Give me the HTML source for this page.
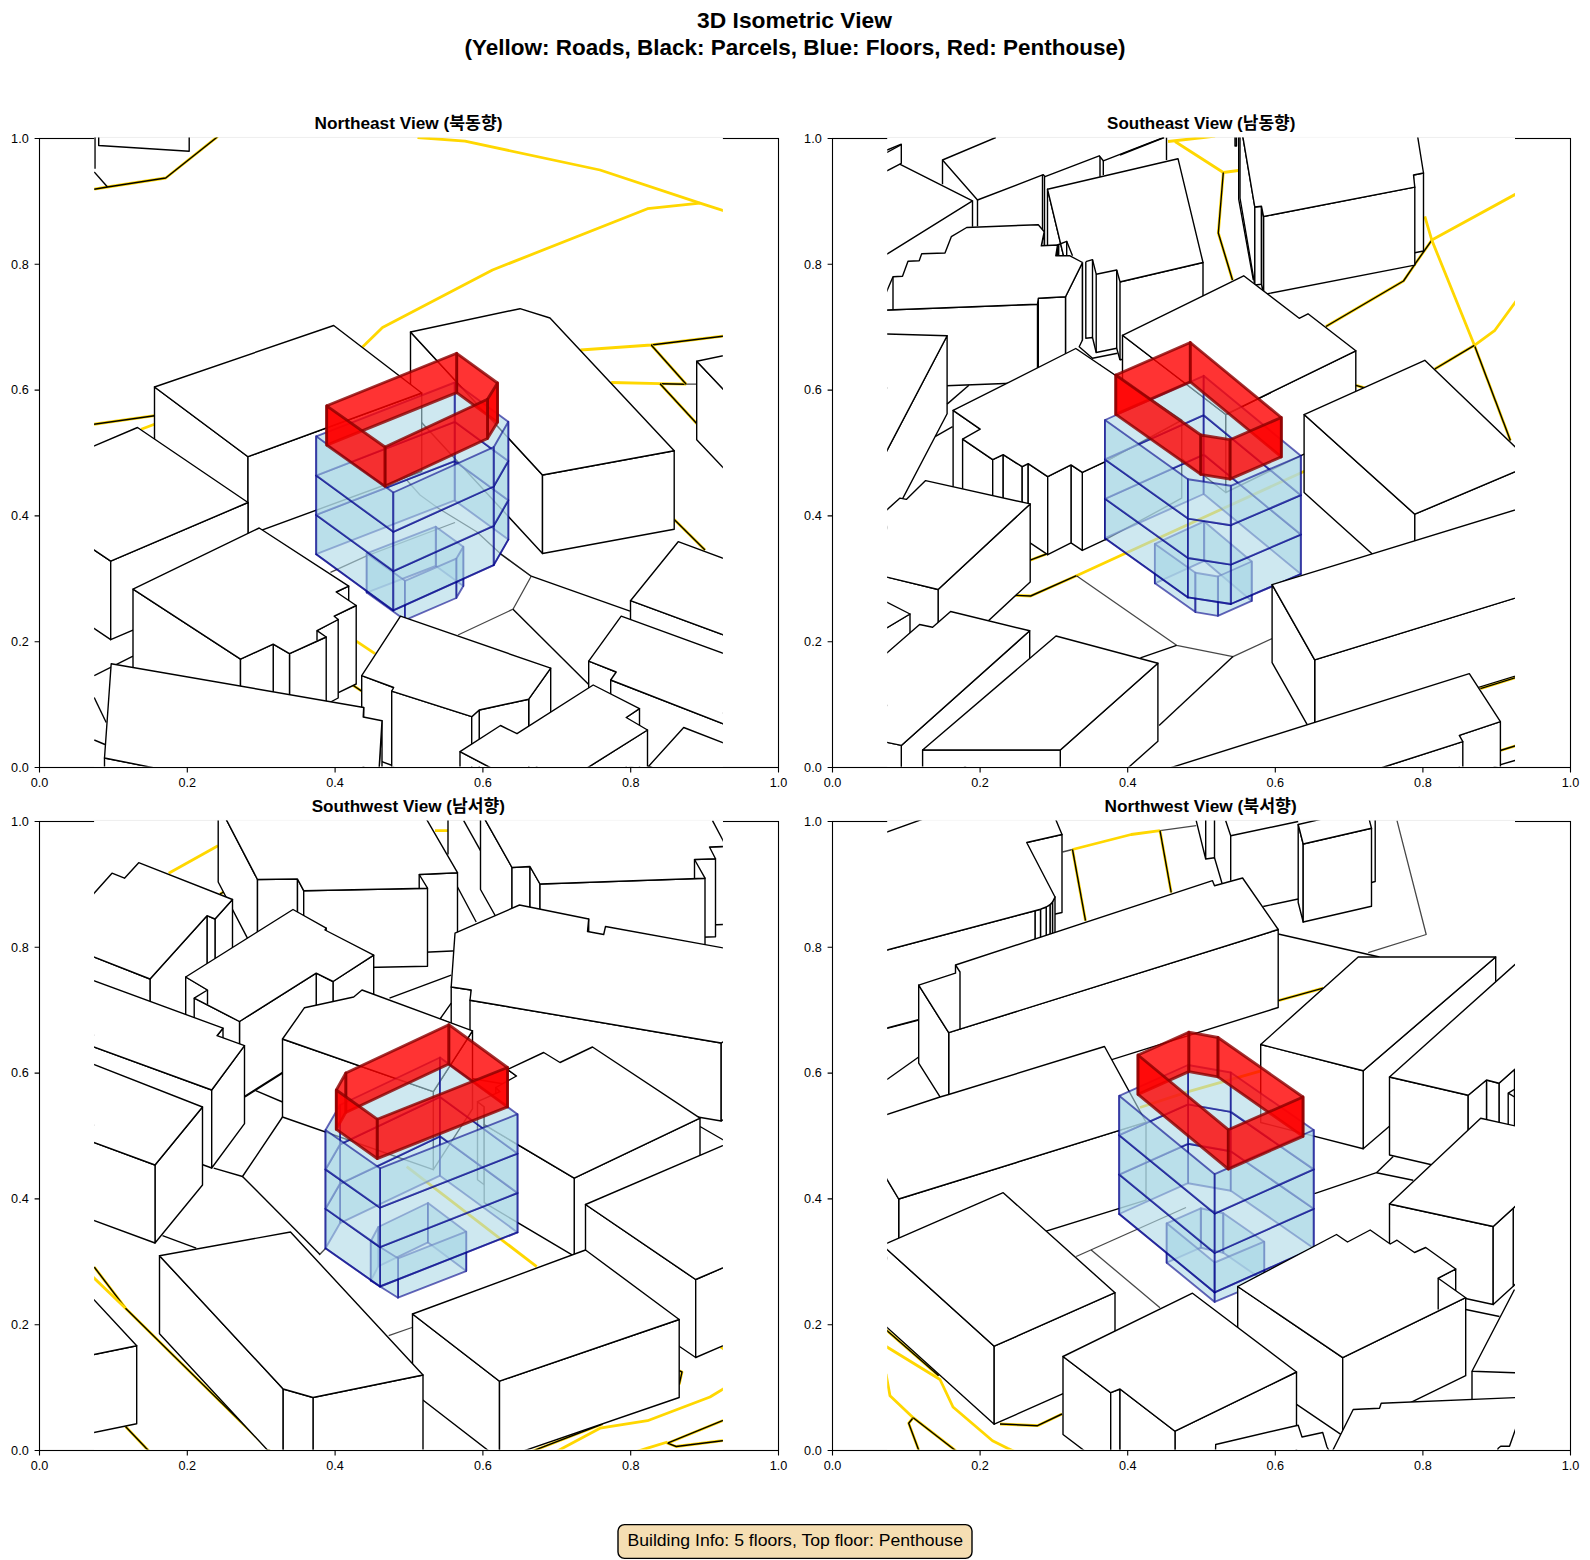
<!DOCTYPE html><html><head><meta charset="utf-8"><title>3D Isometric View</title><style>
html,body{margin:0;padding:0;background:#fff}svg{display:block}
text{font-family:'Liberation Sans','Noto Sans CJK KR',sans-serif;fill:#000}
.tk{font-size:13px}.st{font-size:17px;font-weight:bold}.tt{font-size:21.8px;font-weight:bold}.bx{font-size:16.4px}
.b{fill:#fff;stroke:#000;stroke-width:1.4;stroke-linejoin:round}
.ln{fill:none;stroke:#000;stroke-width:1.4;stroke-linejoin:round}
.th{fill:none;stroke:#000;stroke-opacity:.72;stroke-width:1.3;stroke-linejoin:round}
.rd{fill:none;stroke:#ffd700;stroke-width:2.8;stroke-linejoin:round}
.fl{fill:#add8e6;fill-opacity:.6;stroke:#00008b;stroke-opacity:.6;stroke-width:1.9;stroke-linejoin:round}
.fe{fill:none;stroke:#00008b;stroke-opacity:.6;stroke-width:1.9;stroke-linecap:round}
.ph{fill:#f00;fill-opacity:.8;stroke:#8b0000;stroke-opacity:.8;stroke-width:2.8;stroke-linejoin:round}
</style></head><body>
<svg width="1590" height="1560" viewBox="0 0 1590 1560">
<rect width="1590" height="1560" fill="#fff"/>
<text class="tt" x="794.5" y="27.8" text-anchor="middle" textLength="194.8" lengthAdjust="spacingAndGlyphs">3D Isometric View</text>
<text class="tt" x="795" y="55.3" text-anchor="middle" textLength="661" lengthAdjust="spacingAndGlyphs">(Yellow: Roads, Black: Parcels, Blue: Floors, Red: Penthouse)</text>
<rect x="39.5" y="138.5" width="739" height="629" fill="#fff" stroke="#000" stroke-width="1.1"/>
<path d="M39.5 767.5v4.9M39.5 767.5h-4.9" stroke="#000" stroke-width="1.1" fill="none"/>
<text class="tk" x="39.5" y="786.9" text-anchor="middle" textLength="17.6" lengthAdjust="spacingAndGlyphs">0.0</text>
<text class="tk" x="28.7" y="771.7" text-anchor="end" textLength="17.6" lengthAdjust="spacingAndGlyphs">0.0</text>
<path d="M187.3 767.5v4.9M39.5 641.7h-4.9" stroke="#000" stroke-width="1.1" fill="none"/>
<text class="tk" x="187.3" y="786.9" text-anchor="middle" textLength="17.6" lengthAdjust="spacingAndGlyphs">0.2</text>
<text class="tk" x="28.7" y="645.9" text-anchor="end" textLength="17.6" lengthAdjust="spacingAndGlyphs">0.2</text>
<path d="M335.1 767.5v4.9M39.5 515.9h-4.9" stroke="#000" stroke-width="1.1" fill="none"/>
<text class="tk" x="335.1" y="786.9" text-anchor="middle" textLength="17.6" lengthAdjust="spacingAndGlyphs">0.4</text>
<text class="tk" x="28.7" y="520.1" text-anchor="end" textLength="17.6" lengthAdjust="spacingAndGlyphs">0.4</text>
<path d="M482.9 767.5v4.9M39.5 390.1h-4.9" stroke="#000" stroke-width="1.1" fill="none"/>
<text class="tk" x="482.9" y="786.9" text-anchor="middle" textLength="17.6" lengthAdjust="spacingAndGlyphs">0.6</text>
<text class="tk" x="28.7" y="394.3" text-anchor="end" textLength="17.6" lengthAdjust="spacingAndGlyphs">0.6</text>
<path d="M630.7 767.5v4.9M39.5 264.3h-4.9" stroke="#000" stroke-width="1.1" fill="none"/>
<text class="tk" x="630.7" y="786.9" text-anchor="middle" textLength="17.6" lengthAdjust="spacingAndGlyphs">0.8</text>
<text class="tk" x="28.7" y="268.5" text-anchor="end" textLength="17.6" lengthAdjust="spacingAndGlyphs">0.8</text>
<path d="M778.5 767.5v4.9M39.5 138.5h-4.9" stroke="#000" stroke-width="1.1" fill="none"/>
<text class="tk" x="778.5" y="786.9" text-anchor="middle" textLength="17.6" lengthAdjust="spacingAndGlyphs">1.0</text>
<text class="tk" x="28.7" y="142.7" text-anchor="end" textLength="17.6" lengthAdjust="spacingAndGlyphs">1.0</text>
<text class="st" x="408.5" y="129.1" text-anchor="middle" textLength="188" lengthAdjust="spacingAndGlyphs">Northeast View (북동향)</text>
<clipPath id="c1"><rect x="94.1" y="137.6" width="628.8" height="629"/></clipPath>
<rect x="94.1" y="137" width="628.8" height="629.6" fill="#fff"/>
<path d="M94.1 137.4H722.9" stroke="#eee" stroke-width="1"/>
<g clip-path="url(#c1)">
<path class="rd" d="M94.2 189.2 L107.5 187 L165.7 178 L215.7 138.2 L230 126"/>
<path class="ln" d="M94.2 189.2 L107.5 187 L165.7 178 L215.7 138.2 L230 126"/>
<path class="rd" d="M417.5 137.5 L465 141.2 L600 170 L700 203.2 L722.8 210.5 L740 216"/>
<path class="rd" d="M362.5 347 L382.5 327.5 L492.5 270 L647.5 208.7 L700 203.2"/>
<path class="rd" d="M580.5 350 L651.2 345 L722.8 336.2 L740 334"/>
<path class="ln" d="M651.2 345 L722.8 336.2 L740 334"/>
<path class="rd" d="M611.2 382.5 L660 383.7 L686.2 384.2"/>
<path class="ln" d="M660 383.7 L686.2 384.2"/>
<path class="th" d="M686.2 384.2 L696.5 384.2"/>
<path class="rd" d="M651.2 345 L686.2 384.2"/>
<path class="ln" d="M651.2 345 L686.2 384.2"/>
<path class="rd" d="M660 383.7 L696.2 423 L705 432"/>
<path class="ln" d="M660 383.7 L696.2 423 L705 432"/>
<path class="rd" d="M80 426.2 L154.5 415.7"/>
<path class="ln" d="M80 426.2 L154.5 415.7"/>
<path class="rd" d="M141.2 429.2 L154.5 424.2 L170 418"/>
<path class="rd" d="M674.2 519.5 L705 550"/>
<path class="ln" d="M674.2 519.5 L705 550"/>
<path class="rd" d="M356.2 641.2 L375 653.7"/>
<path class="rd" d="M352.5 685 L361.7 691.2"/>
<path class="ln" d="M352.5 685 L361.7 691.2"/>
<path class="ln" d="M95 130 L95 168.7"/>
<path class="ln" d="M94.2 172 L107.5 187"/>
<path class="ln" d="M98.7 130 L98.7 145.5 L189.2 151.2 L189.2 130"/>
<path class="ln" d="M94.2 675.7 L133 656.2"/>
<path class="ln" d="M94.2 697.5 L106.2 722.5"/>
<path class="ln" d="M94.2 740 L105 744.5"/>
<path class="th" d="M500 553.7 L531.2 576.2"/>
<path class="ln" d="M531.2 576.2 L630 611.2"/>
<path class="th" d="M531.2 576.2 L513 609.2 L458 635"/>
<path class="ln" d="M513 609.2 L589.2 685"/>
<path class="th" d="M406.7 480 L420 495 L438.3 508.3 L476.7 531.7 L500 553.3 L531.2 576.2"/>
<path class="th" d="M330.5 572.3 L366.7 555.8 L455 522.5"/>
<path class="b" d="M796.7 467 L696.7 361.2 L696.7 439.7 L796.7 545.5Z"/><path class="b" d="M896.7 446 L796.7 467 L796.7 545.5 L896.7 524.5Z"/><path class="b" d="M696.7 361.2 L796.7 340.2 L896.7 446 L796.7 467Z"/>
<path class="b" d="M542.5 475 L410.5 332 L410.5 410.5 L542.5 553.5Z"/><path class="b" d="M674.2 450.7 L542.5 475 L542.5 553.5 L674.2 529.2Z"/><path class="b" d="M410.5 332 L520 308.7 L550 318 L674.2 450.7 L542.5 475Z"/>
<path class="b" d="M248 456.7 L154.5 387 L154.5 465.5 L248 535.2Z"/><path class="b" d="M421.7 393 L248 456.7 L248 535.2 L421.7 471.5Z"/><path class="b" d="M154.5 387 L333.7 325.5 L421.7 393 L248 456.7Z"/>
<path class="b" d="M110.7 561.2 L0.2 486.2 L0.2 564.7 L110.7 639.7Z"/><path class="b" d="M248 502.5 L110.7 561.2 L110.7 639.7 L248 581Z"/><path class="b" d="M137.5 427.5 L248 502.5 L110.7 561.2 L0.2 486.2Z"/>
<path class="b" d="M348.7 586.2 L336.2 592 L336.2 670.5 L348.7 664.7Z"/><path class="b" d="M356.2 605.5 L334.2 616.2 L334.2 694.7 L356.2 684Z"/><path class="b" d="M240.5 659.2 L133 589.2 L133 667.7 L240.5 737.7Z"/><path class="b" d="M338.2 619.5 L317 630.7 L317 709.2 L338.2 698Z"/><path class="b" d="M326.2 637 L289.5 653.7 L289.5 732.2 L326.2 715.5Z"/><path class="b" d="M289.5 653.7 L273.2 644.2 L273.2 722.7 L289.5 732.2Z"/><path class="b" d="M273.2 644.2 L240.5 659.2 L240.5 737.7 L273.2 722.7Z"/><path class="b" d="M133 589.2 L259.2 528 L348.7 586.2 L336.2 592 L356.2 605.5 L334.2 616.2 L338.2 619.5 L317 630.7 L326.2 637 L289.5 653.7 L273.2 644.2 L240.5 659.2Z"/>
<path class="ln" d="M317 630.7 L317 640.5"/>
<path class="b" d="M800 586.5 L752.3 645.5 L752.3 724 L800 665Z"/><path class="b" d="M752.3 645.5 L630.5 600.7 L630.5 679.2 L752.3 724Z"/><path class="b" d="M678.2 541.7 L800 586.5 L752.3 645.5 L630.5 600.7Z"/>
<path class="b" d="M616.2 672 L588.7 661.2 L588.7 739.7 L616.2 750.5Z"/><path class="b" d="M780 673.9 L770 742 L770 820.5 L780 752.4Z"/><path class="b" d="M770 742 L610.7 680 L610.7 758.5 L770 820.5Z"/><path class="b" d="M621.2 616.2 L780 673.9 L770 742 L610.7 680 L616.2 672 L588.7 661.2Z"/>
<path class="fl" d="M435.8 526.7 L463.3 546.7 L463.3 586 L435.8 566Z"/><path class="fl" d="M366.7 553.3 L435.8 526.7 L435.8 566 L366.7 592.6Z"/><path class="fl" d="M463.3 546.7 L456.3 558.7 L456.3 598 L463.3 586Z"/><path class="fl" d="M405 580.8 L366.7 553.3 L366.7 592.6 L405 620.1Z"/><path class="fl" d="M456.3 558.7 L405 580.8 L405 620.1 L456.3 598Z"/><path class="fl" d="M508.3 500.3 L454.7 461.1 L454.7 500.4 L508.3 539.6Z"/><path class="fl" d="M454.7 461.1 L316.2 514.9 L316.2 554.2 L454.7 500.4Z"/><path class="fl" d="M508.3 461 L454.7 421.8 L454.7 461.1 L508.3 500.3Z"/><path class="fl" d="M454.7 421.8 L316.2 475.6 L316.2 514.9 L454.7 461.1Z"/><path class="fl" d="M508.3 421.7 L454.7 382.5 L454.7 421.8 L508.3 461Z"/><path class="fl" d="M454.7 382.5 L316.2 436.3 L316.2 475.6 L454.7 421.8Z"/><path class="fl" d="M493.7 525.8 L508.3 500.3 L508.3 539.6 L493.7 565.1Z"/><path class="fl" d="M316.2 514.9 L393.3 571.1 L393.3 610.4 L316.2 554.2Z"/><path class="fl" d="M393.3 571.1 L493.7 525.8 L493.7 565.1 L393.3 610.4Z"/><path class="fl" d="M493.7 486.5 L508.3 461 L508.3 500.3 L493.7 525.8Z"/><path class="fl" d="M316.2 475.6 L393.3 531.8 L393.3 571.1 L316.2 514.9Z"/><path class="fl" d="M393.3 531.8 L493.7 486.5 L493.7 525.8 L393.3 571.1Z"/><path class="fl" d="M493.7 447.2 L508.3 421.7 L508.3 461 L493.7 486.5Z"/><path class="fl" d="M316.2 436.3 L393.3 492.5 L393.3 531.8 L316.2 475.6Z"/><path class="fl" d="M393.3 492.5 L493.7 447.2 L493.7 486.5 L393.3 531.8Z"/><path class="fe" d="M493.7 565.1 L508.3 539.6"/><path class="fe" d="M316.2 554.2 L393.3 610.4"/><path class="fe" d="M393.3 610.4 L493.7 565.1"/><path class="ph" d="M456.7 353.3 L497.5 383 L497.5 422.3 L456.7 392.6Z"/><path class="ph" d="M326.7 405.8 L456.7 353.3 L456.7 392.6 L326.7 445.1Z"/><path class="ph" d="M497.5 383 L487.5 399.2 L487.5 438.5 L497.5 422.3Z"/><path class="ph" d="M487.5 399.2 L385 447 L385 486.3 L487.5 438.5Z"/><path class="ph" d="M385 447 L326.7 405.8 L326.7 445.1 L385 486.3Z"/>
<path class="b" d="M393.7 687.5 L361.7 675.7 L361.7 754.2 L393.7 766Z"/><path class="b" d="M550.7 668.2 L528.7 699.2 L528.7 777.7 L550.7 746.7Z"/><path class="b" d="M471.7 716.7 L391.7 691.2 L391.7 769.7 L471.7 795.2Z"/><path class="b" d="M528.7 699.2 L479.2 710 L479.2 788.5 L528.7 777.7Z"/><path class="b" d="M479.2 710 L471.7 716.7 L471.7 795.2 L479.2 788.5Z"/><path class="b" d="M400.5 616.2 L550.7 668.2 L528.7 699.2 L479.2 710 L471.7 716.7 L391.7 691.2 L393.7 687.5 L361.7 675.7Z"/>
<path class="b" d="M363.7 707.5 L363.2 717 L363.2 795.5 L363.7 786Z"/><path class="b" d="M382 720.7 L376.5 812 L376.5 890.5 L382 799.2Z"/><path class="b" d="M376.5 812 L104.5 758 L104.5 836.5 L376.5 890.5Z"/><path class="b" d="M111.2 663.7 L363.7 707.5 L363.2 717 L382 720.7 L376.5 812 L104.5 758Z"/>
<path class="b" d="M780 764.7 L745 803 L745 881.5 L780 843.2Z"/><path class="b" d="M745 803 L648.7 766.2 L648.7 844.7 L745 881.5Z"/><path class="b" d="M683.7 727.5 L780 764.7 L745 803 L648.7 766.2Z"/>
<path class="b" d="M639.5 708.7 L626.2 717.5 L626.2 796 L639.5 787.2Z"/><path class="b" d="M647.5 730 L560 785 L560 863.5 L647.5 808.5Z"/><path class="b" d="M520 783 L460 751.7 L460 830.2 L520 861.5Z"/><path class="b" d="M560 785 L520 783 L520 861.5 L560 863.5Z"/><path class="b" d="M460 751.7 L500.5 725.5 L517 733.7 L593.2 685 L639.5 708.7 L626.2 717.5 L647.5 730 L560 785 L520 783Z"/>
</g>
<rect x="832.5" y="138.5" width="738" height="629" fill="#fff" stroke="#000" stroke-width="1.1"/>
<path d="M832.5 767.5v4.9M832.5 767.5h-4.9" stroke="#000" stroke-width="1.1" fill="none"/>
<text class="tk" x="832.5" y="786.9" text-anchor="middle" textLength="17.6" lengthAdjust="spacingAndGlyphs">0.0</text>
<text class="tk" x="821.7" y="771.7" text-anchor="end" textLength="17.6" lengthAdjust="spacingAndGlyphs">0.0</text>
<path d="M980.1 767.5v4.9M832.5 641.7h-4.9" stroke="#000" stroke-width="1.1" fill="none"/>
<text class="tk" x="980.1" y="786.9" text-anchor="middle" textLength="17.6" lengthAdjust="spacingAndGlyphs">0.2</text>
<text class="tk" x="821.7" y="645.9" text-anchor="end" textLength="17.6" lengthAdjust="spacingAndGlyphs">0.2</text>
<path d="M1127.7 767.5v4.9M832.5 515.9h-4.9" stroke="#000" stroke-width="1.1" fill="none"/>
<text class="tk" x="1127.7" y="786.9" text-anchor="middle" textLength="17.6" lengthAdjust="spacingAndGlyphs">0.4</text>
<text class="tk" x="821.7" y="520.1" text-anchor="end" textLength="17.6" lengthAdjust="spacingAndGlyphs">0.4</text>
<path d="M1275.3 767.5v4.9M832.5 390.1h-4.9" stroke="#000" stroke-width="1.1" fill="none"/>
<text class="tk" x="1275.3" y="786.9" text-anchor="middle" textLength="17.6" lengthAdjust="spacingAndGlyphs">0.6</text>
<text class="tk" x="821.7" y="394.3" text-anchor="end" textLength="17.6" lengthAdjust="spacingAndGlyphs">0.6</text>
<path d="M1422.9 767.5v4.9M832.5 264.3h-4.9" stroke="#000" stroke-width="1.1" fill="none"/>
<text class="tk" x="1422.9" y="786.9" text-anchor="middle" textLength="17.6" lengthAdjust="spacingAndGlyphs">0.8</text>
<text class="tk" x="821.7" y="268.5" text-anchor="end" textLength="17.6" lengthAdjust="spacingAndGlyphs">0.8</text>
<path d="M1570.5 767.5v4.9M832.5 138.5h-4.9" stroke="#000" stroke-width="1.1" fill="none"/>
<text class="tk" x="1570.5" y="786.9" text-anchor="middle" textLength="17.6" lengthAdjust="spacingAndGlyphs">1.0</text>
<text class="tk" x="821.7" y="142.7" text-anchor="end" textLength="17.6" lengthAdjust="spacingAndGlyphs">1.0</text>
<text class="st" x="1201.2" y="129.1" text-anchor="middle" textLength="188.3" lengthAdjust="spacingAndGlyphs">Southeast View (남동향)</text>
<clipPath id="c2"><rect x="887.2" y="137.6" width="627.8" height="629"/></clipPath>
<rect x="887.2" y="137" width="627.8" height="629.6" fill="#fff"/>
<path d="M887.2 137.4H1515" stroke="#eee" stroke-width="1"/>
<g clip-path="url(#c2)">
<path class="rd" d="M1168 141.5 L1203.3 137.5 L1215 136"/>
<path class="rd" d="M1175 141.5 L1223.3 172.5 L1238.3 170.5"/>
<path class="rd" d="M1223.3 172.5 L1218.3 233 L1232.5 280"/>
<path class="ln" d="M1223.3 172.5 L1218.3 233 L1232.5 280"/>
<path class="rd" d="M1325.9 326.5 L1403.5 281 L1416 262.7 L1431.8 240.1"/>
<path class="ln" d="M1325.9 326.5 L1403.5 281 L1416 262.7 L1431.8 240.1"/>
<path class="rd" d="M1431.8 240.1 L1514.9 194.6 L1530 186"/>
<path class="rd" d="M1424.8 216.4 L1431.8 240.1 L1474.4 345.3"/>
<path class="rd" d="M1474.4 345.3 L1510.4 440.4"/>
<path class="ln" d="M1474.4 345.3 L1510.4 440.4"/>
<path class="rd" d="M1434.8 369 L1474.4 345.3"/>
<path class="ln" d="M1434.8 369 L1474.4 345.3"/>
<path class="rd" d="M1474.4 345.3 L1494.9 330.3 L1514.9 302.7 L1525 289"/>
<path class="rd" d="M1356 385.3 L1364.7 387.8"/>
<path class="ln" d="M1356 385.3 L1364.7 387.8"/>
<path class="rd" d="M1015.2 595.3 L1030.7 596 L1076.5 575.7"/>
<path class="ln" d="M1015.2 595.3 L1030.7 596 L1076.5 575.7"/>
<path class="rd" d="M1076.5 575.7 L1126.6 552.7 L1305 471"/>
<path class="rd" d="M1030.2 560.2 L1046.5 554"/>
<path class="ln" d="M1030.2 560.2 L1046.5 554"/>
<path class="rd" d="M1480.4 688.6 L1514.9 677.9 L1530 673"/>
<path class="ln" d="M1480.4 688.6 L1514.9 677.9 L1530 673"/>
<path class="rd" d="M1500.4 750.5 L1514.9 746 L1530 741"/>
<path class="ln" d="M1500.4 750.5 L1514.9 746 L1530 741"/>
<path class="th" d="M1076.5 575.7 L1176.6 645.3 L1233 656.6 L1272.1 638.6"/>
<path class="ln" d="M1176.6 645.3 L1140.4 657.8"/>
<path class="ln" d="M1233 656.6 L1159.1 725.4"/>
<path class="ln" d="M1493.6 766.7 L1514.9 760.5 L1530 756"/>
<path class="ln" d="M887 150 L901.3 144.2 L901.3 163.3 L887 170.8"/>
<path class="ln" d="M887 152.5 L901.3 144.7"/>
<path class="ln" d="M899.7 164.2 L972.5 200.8 L887 254.2"/>
<path class="ln" d="M972.5 200.8 L972.5 226.7"/>
<path class="ln" d="M977.5 200 L977.5 226.3"/>
<path class="ln" d="M995.8 137.5 L942.5 160 L942.5 184.2"/>
<path class="ln" d="M942.5 160 L977.5 200 L1043.3 174.7 L1045 176.7 L1099.2 155.8 L1103.3 160.8 L1145 144.7 L1163.7 137.5"/>
<path class="ln" d="M1042.5 174.7 L1042.5 245"/>
<path class="ln" d="M1044.5 176.7 L1044.5 245"/>
<path class="ln" d="M1100 156.7 L1100 176.7"/>
<path class="ln" d="M1103.3 160.8 L1103.3 175"/>
<path class="ln" d="M1166.5 137.5 L1166.5 160"/>
<path class="ln" d="M1120 155 L1164.2 137.5"/>
<path class="b" d="M1072.5 293 L1047.5 189.2 L1047.5 267.2 L1072.5 371Z"/><path class="b" d="M1203 262.5 L1072.5 293 L1072.5 371 L1203 340.5Z"/><path class="b" d="M1047.5 189.2 L1178 158.7 L1203 262.5 L1072.5 293Z"/>
<path class="b" d="M1044.2 231.7 L1041.3 245.8 L1041.3 323.8 L1044.2 309.7Z"/><path class="b" d="M1057.5 245 L1055.8 255.8 L1055.8 333.8 L1057.5 323Z"/><path class="b" d="M1082.5 262.5 L1065.5 296.7 L1065.5 374.7 L1082.5 340.5Z"/><path class="b" d="M1065.5 296.7 L1038.3 298.3 L1038.3 376.3 L1065.5 374.7Z"/><path class="b" d="M1038.3 298.3 L1037.5 304.2 L1037.5 382.2 L1038.3 376.3Z"/><path class="b" d="M1037.5 304.2 L870 310.6 L870 388.6 L1037.5 382.2Z"/><path class="b" d="M880 307 L893 276.7 L902.5 276.2 L908 261.3 L919.2 260.8 L921.7 253.7 L945 253 L951.3 236.7 L966.7 227.5 L1038.3 224.7 L1044.2 231.7 L1041.3 245.8 L1057.5 245 L1055.8 255.8 L1070 255.8 L1082.5 262.5 L1065.5 296.7 L1038.3 298.3 L1037.5 304.2 L870 310.6Z"/>
<path class="ln" d="M893 276.7 L893 309.5"/>
<path class="ln" d="M1057.5 245 L1066.7 241.3 L1072.5 255.8"/>
<path class="ln" d="M1066.7 241.3 L1066.7 255"/>
<path class="ln" d="M1058.7 245 L1058.7 255"/>
<path fill="#fff" d="M1085.8 261.7 L1092.5 259.7 L1096.2 274.2 L1116.7 270 L1120 281.7 L1120 360 L1115.8 375 L1075.8 348 L1082.5 340 L1082.5 262.5Z"/>
<path class="ln" d="M1085.8 261.7 L1092.5 259.7 L1096.2 274.2 L1116.7 270 L1120 281.7"/>
<path class="ln" d="M1082.5 262.5 L1082.5 340 L1079.2 346.7 L1092.5 358.3 L1117.5 353.3"/>
<path class="ln" d="M1085.8 261.7 L1085.8 338.3 L1092.5 337.5 L1096.2 352.5 L1116.7 348.3 L1120 360"/>
<path class="ln" d="M1092.5 259.7 L1092.5 337.5"/>
<path class="ln" d="M1096.2 274.2 L1096.2 352.5"/>
<path class="ln" d="M1116.7 270 L1116.7 348.3"/>
<path class="ln" d="M1120 281.7 L1120 360"/>
<path class="ln" d="M1238.7 130 L1238.7 199.2 L1253.3 280"/>
<path class="ln" d="M1235 130 L1235 146 L1236.5 146 L1236.5 130"/>
<path class="b" d="M1240 120 L1254.8 207 L1254.8 285 L1240 198Z"/><path class="b" d="M1413.5 175 L1423.5 173 L1423.5 251 L1413.5 253Z"/><path class="b" d="M1263.5 216.5 L1414.8 187.1 L1414.8 265.1 L1263.5 294.5Z"/><path class="b" d="M1254.8 207 L1261.5 206.3 L1261.5 284.3 L1254.8 285Z"/><path class="b" d="M1261.5 206.3 L1263.5 216.5 L1263.5 294.5 L1261.5 284.3Z"/><path class="b" d="M1240 120 L1254.8 207 L1261.5 206.3 L1263.5 216.5 L1414.8 187.1 L1413.5 175 L1423.5 173 L1415 120Z"/>
<path class="b" d="M947.1 335.8 L860 502 L860 580 L947.1 413.8Z"/><path class="b" d="M860 502 L800 500 L800 578 L860 580Z"/><path class="b" d="M947.1 335.8 L860 502 L800 500 L800 332 L887 334Z"/>
<path class="ln" d="M947.1 404.1 L968.9 385.3"/>
<path class="ln" d="M935.1 436.6 L952.6 426.6"/>
<path class="b" d="M1225.8 414.5 L1122.5 335.3 L1122.5 413.3 L1225.8 492.5Z"/><path class="b" d="M1355.8 350.8 L1225.8 414.5 L1225.8 492.5 L1355.8 428.8Z"/><path class="b" d="M1122.5 335.3 L1243.7 275.8 L1299.2 318.3 L1308 313.8 L1355.8 350.8 L1225.8 414.5Z"/>
<path class="b" d="M980.2 429.1 L953.1 410.4 L953.1 488.4 L980.2 507.1Z"/><path class="b" d="M1181.7 420.2 L1105.3 461.7 L1105.3 539.7 L1181.7 498.2Z"/><path class="b" d="M992.7 459.7 L962.6 439.1 L962.6 517.1 L992.7 537.7Z"/><path class="b" d="M1003.2 454.7 L992.7 459.7 L992.7 537.7 L1003.2 532.7Z"/><path class="b" d="M1022.2 466.7 L1003.2 454.7 L1003.2 532.7 L1022.2 544.7Z"/><path class="b" d="M1028.2 463.7 L1022.2 466.7 L1022.2 544.7 L1028.2 541.7Z"/><path class="b" d="M1105.3 461.7 L1082.3 472.4 L1082.3 550.4 L1105.3 539.7Z"/><path class="b" d="M1082.3 472.4 L1071 464.9 L1071 542.9 L1082.3 550.4Z"/><path class="b" d="M1047.7 476.7 L1028.2 463.7 L1028.2 541.7 L1047.7 554.7Z"/><path class="b" d="M1071 464.9 L1047.7 476.7 L1047.7 554.7 L1071 542.9Z"/><path class="b" d="M953.1 410.4 L1075.8 348.5 L1181.7 420.2 L1105.3 461.7 L1082.3 472.4 L1071 464.9 L1047.7 476.7 L1028.2 463.7 L1022.2 466.7 L1003.2 454.7 L992.7 459.7 L962.6 439.1 L980.2 429.1Z"/>
<path class="fl" d="M1154.9 543.9 L1204.2 521.4 L1204.2 560.8 L1154.9 583.3Z"/><path class="fl" d="M1204.2 521.4 L1251.7 561.5 L1251.7 600.9 L1204.2 560.8Z"/><path class="fl" d="M1195.4 572.7 L1154.9 543.9 L1154.9 583.3 L1195.4 612.1Z"/><path class="fl" d="M1251.7 561.5 L1217.9 576.5 L1217.9 615.9 L1251.7 600.9Z"/><path class="fl" d="M1217.9 576.5 L1195.4 572.7 L1195.4 612.1 L1217.9 615.9Z"/><path class="fl" d="M1105 498.8 L1203.7 454.6 L1203.7 494 L1105 538.2Z"/><path class="fl" d="M1203.7 454.6 L1300.8 534.6 L1300.8 574 L1203.7 494Z"/><path class="fl" d="M1105 459.4 L1203.7 415.2 L1203.7 454.6 L1105 498.8Z"/><path class="fl" d="M1203.7 415.2 L1300.8 495.2 L1300.8 534.6 L1203.7 454.6Z"/><path class="fl" d="M1105 420 L1203.7 375.8 L1203.7 415.2 L1105 459.4Z"/><path class="fl" d="M1203.7 375.8 L1300.8 455.8 L1300.8 495.2 L1203.7 415.2Z"/><path class="fl" d="M1188 558 L1105 498.8 L1105 538.2 L1188 597.4Z"/><path class="fl" d="M1300.8 534.6 L1230.8 564.6 L1230.8 604 L1300.8 574Z"/><path class="fl" d="M1230.8 564.6 L1188 558 L1188 597.4 L1230.8 604Z"/><path class="fl" d="M1188 518.6 L1105 459.4 L1105 498.8 L1188 558Z"/><path class="fl" d="M1300.8 495.2 L1230.8 525.2 L1230.8 564.6 L1300.8 534.6Z"/><path class="fl" d="M1230.8 525.2 L1188 518.6 L1188 558 L1230.8 564.6Z"/><path class="fl" d="M1188 479.2 L1105 420 L1105 459.4 L1188 518.6Z"/><path class="fl" d="M1300.8 455.8 L1230.8 485.8 L1230.8 525.2 L1300.8 495.2Z"/><path class="fl" d="M1230.8 485.8 L1188 479.2 L1188 518.6 L1230.8 525.2Z"/><path class="fe" d="M1188 597.4 L1105 538.2"/><path class="fe" d="M1300.8 574 L1230.8 604"/><path class="fe" d="M1230.8 604 L1188 597.4"/><path class="ph" d="M1115.8 375 L1190.3 342.5 L1190.3 381.9 L1115.8 414.4Z"/><path class="ph" d="M1190.3 342.5 L1281.3 417.5 L1281.3 456.9 L1190.3 381.9Z"/><path class="ph" d="M1200.8 435 L1115.8 375 L1115.8 414.4 L1200.8 474.4Z"/><path class="ph" d="M1281.3 417.5 L1230 439.7 L1230 479.1 L1281.3 456.9Z"/><path class="ph" d="M1230 439.7 L1200.8 435 L1200.8 474.4 L1230 479.1Z"/>
<path class="b" d="M1414.8 514.2 L1304.1 414.6 L1304.1 492.6 L1414.8 592.2Z"/><path class="b" d="M1533 464 L1414.8 514.2 L1414.8 592.2 L1533 542Z"/><path class="b" d="M1304.1 414.6 L1424.8 360.3 L1533 464 L1414.8 514.2Z"/>
<path class="b" d="M1030.2 503.9 L938.1 589.5 L938.1 667.5 L1030.2 581.9Z"/><path class="b" d="M938.1 589.5 L870 573 L870 651 L938.1 667.5Z"/><path class="b" d="M870 525 L900 498.1 L906.3 499.4 L925.6 480.6 L1030.2 503.9 L938.1 589.5 L870 573Z"/>
<path class="b" d="M910 614 L870 638 L870 716 L910 692Z"/><path class="b" d="M870 593.6 L910 614 L870 638Z"/>
<path class="b" d="M1029.7 630.8 L901.3 745.4 L901.3 823.4 L1029.7 708.8Z"/><path class="b" d="M901.3 745.4 L870 738.8 L870 816.8 L901.3 823.4Z"/><path class="b" d="M870 667.6 L919.6 624.5 L932.6 627.3 L950.6 611.5 L1029.7 630.8 L901.3 745.4 L870 738.8Z"/>
<path class="b" d="M1157.9 663.3 L1060.3 750 L1060.3 828 L1157.9 741.3Z"/><path class="b" d="M1060.3 750 L922.6 750 L922.6 828 L1060.3 828Z"/><path class="b" d="M922.6 750 L1056 636 L1157.9 663.3 L1060.3 750Z"/>
<path class="b" d="M1642 559 L1314.7 659.8 L1314.7 737.8 L1642 637Z"/><path class="b" d="M1314.7 659.8 L1272.1 584.7 L1272.1 662.7 L1314.7 737.8Z"/><path class="b" d="M1272.1 584.7 L1600 484 L1642 559 L1314.7 659.8Z"/>
<path class="b" d="M1500.4 721.7 L1459.3 735.4 L1459.3 813.4 L1500.4 799.7Z"/><path class="b" d="M1462.8 741.7 L1384.7 766.7 L1384.7 844.7 L1462.8 819.7Z"/><path class="b" d="M1384.7 766.7 L1300 794 L1300 872 L1384.7 844.7Z"/><path class="b" d="M1300 794 L1100 790 L1100 868 L1300 872Z"/><path class="b" d="M1100 790 L1469.3 673.6 L1500.4 721.7 L1459.3 735.4 L1462.8 741.7 L1384.7 766.7 L1300 794Z"/>
</g>
<rect x="39.5" y="821.5" width="739" height="629" fill="#fff" stroke="#000" stroke-width="1.1"/>
<path d="M39.5 1450.5v4.9M39.5 1450.5h-4.9" stroke="#000" stroke-width="1.1" fill="none"/>
<text class="tk" x="39.5" y="1469.9" text-anchor="middle" textLength="17.6" lengthAdjust="spacingAndGlyphs">0.0</text>
<text class="tk" x="28.7" y="1454.7" text-anchor="end" textLength="17.6" lengthAdjust="spacingAndGlyphs">0.0</text>
<path d="M187.3 1450.5v4.9M39.5 1324.7h-4.9" stroke="#000" stroke-width="1.1" fill="none"/>
<text class="tk" x="187.3" y="1469.9" text-anchor="middle" textLength="17.6" lengthAdjust="spacingAndGlyphs">0.2</text>
<text class="tk" x="28.7" y="1328.9" text-anchor="end" textLength="17.6" lengthAdjust="spacingAndGlyphs">0.2</text>
<path d="M335.1 1450.5v4.9M39.5 1198.9h-4.9" stroke="#000" stroke-width="1.1" fill="none"/>
<text class="tk" x="335.1" y="1469.9" text-anchor="middle" textLength="17.6" lengthAdjust="spacingAndGlyphs">0.4</text>
<text class="tk" x="28.7" y="1203.1" text-anchor="end" textLength="17.6" lengthAdjust="spacingAndGlyphs">0.4</text>
<path d="M482.9 1450.5v4.9M39.5 1073.1h-4.9" stroke="#000" stroke-width="1.1" fill="none"/>
<text class="tk" x="482.9" y="1469.9" text-anchor="middle" textLength="17.6" lengthAdjust="spacingAndGlyphs">0.6</text>
<text class="tk" x="28.7" y="1077.3" text-anchor="end" textLength="17.6" lengthAdjust="spacingAndGlyphs">0.6</text>
<path d="M630.7 1450.5v4.9M39.5 947.3h-4.9" stroke="#000" stroke-width="1.1" fill="none"/>
<text class="tk" x="630.7" y="1469.9" text-anchor="middle" textLength="17.6" lengthAdjust="spacingAndGlyphs">0.8</text>
<text class="tk" x="28.7" y="951.5" text-anchor="end" textLength="17.6" lengthAdjust="spacingAndGlyphs">0.8</text>
<path d="M778.5 1450.5v4.9M39.5 821.5h-4.9" stroke="#000" stroke-width="1.1" fill="none"/>
<text class="tk" x="778.5" y="1469.9" text-anchor="middle" textLength="17.6" lengthAdjust="spacingAndGlyphs">1.0</text>
<text class="tk" x="28.7" y="825.7" text-anchor="end" textLength="17.6" lengthAdjust="spacingAndGlyphs">1.0</text>
<text class="st" x="408.3" y="812.1" text-anchor="middle" textLength="193.3" lengthAdjust="spacingAndGlyphs">Southwest View (남서향)</text>
<clipPath id="c3"><rect x="94.1" y="820.6" width="628.8" height="629"/></clipPath>
<rect x="94.1" y="820" width="628.8" height="629.6" fill="#fff"/>
<path d="M94.1 820.4H722.9" stroke="#eee" stroke-width="1"/>
<g clip-path="url(#c3)">
<path class="rd" d="M168.7 873.2 L218 845.7"/>
<path class="rd" d="M220 894 L223.7 892"/>
<path class="ln" d="M220 894 L223.7 892"/>
<path class="rd" d="M435 830.7 L448 830.7"/>
<path class="rd" d="M94.2 1267 L125.5 1308.2 L267.5 1448.2 L285 1466"/>
<path class="ln" d="M94.2 1267 L125.5 1308.2 L267.5 1448.2 L285 1466"/>
<path class="rd" d="M85 1269.4 L125.5 1308.2"/>
<path class="rd" d="M125.5 1426.5 L146.2 1448.2 L160 1462"/>
<path class="ln" d="M125.5 1426.5 L146.2 1448.2 L160 1462"/>
<path class="rd" d="M740 1379 L722.5 1389.5 L710 1397 L647.5 1420.7 L600 1428.2 L562.5 1448.2 L545 1458"/>
<path class="rd" d="M520 1456 L540 1448.2 L602.5 1424"/>
<path class="ln" d="M520 1456 L540 1448.2 L602.5 1424"/>
<path class="rd" d="M679.2 1370.7 L682 1372 L679.2 1384.5"/>
<path class="ln" d="M679.2 1370.7 L682 1372 L679.2 1384.5"/>
<path class="rd" d="M740 1413.5 L722.5 1420.7 L667.5 1443.2 L676.2 1446.5 L722.5 1440.7 L740 1438.5"/>
<path class="ln" d="M740 1413.5 L722.5 1420.7 L667.5 1443.2 L676.2 1446.5 L722.5 1440.7 L740 1438.5"/>
<path class="rd" d="M630 1453.6 L647.5 1448.2 L667.5 1442"/>
<path class="rd" d="M720.7 1347 L722.5 1348.2 L730 1353"/>
<path class="rd" d="M406.7 1166.7 L536.7 1266.7"/>
<path class="ln" d="M162.5 1235.7 L196.2 1248.2"/>
<path class="ln" d="M213.7 1168.2 L242.5 1176.5 L282.5 1117"/>
<path class="ln" d="M242.5 1176.5 L320 1254.5"/>
<path class="th" d="M319.2 1255 L325.5 1248.5"/>
<path class="th" d="M388.7 1335.7 L412 1327.5"/>
<path class="ln" d="M245 1097 L282.5 1073.2"/>
<path class="ln" d="M255.7 1090.7 L282.5 1102"/>
<path class="ln" d="M700 1126.5 L722.5 1139.5 L740 1149.6"/>
<path class="ln" d="M448 815 L448 854.5"/>
<path class="ln" d="M463.7 820.7 L480.5 850.7"/>
<path class="ln" d="M457.5 887 L476.2 922"/>
<path class="b" d="M218.2 804 L257.5 879.5 L257.5 957.5 L218.2 882Z"/><path class="b" d="M419.2 874.5 L457.5 872.7 L457.5 950.7 L419.2 952.5Z"/><path class="b" d="M257.5 879.5 L297.5 879 L297.5 957 L257.5 957.5Z"/><path class="b" d="M297.5 879 L303.7 890.7 L303.7 968.7 L297.5 957Z"/><path class="b" d="M303.7 890.7 L427.5 888.2 L427.5 966.2 L303.7 968.7Z"/><path class="b" d="M218.2 804 L257.5 879.5 L297.5 879 L303.7 890.7 L427.5 888.2 L419.2 874.5 L457.5 872.7 L420 808Z"/>
<path class="b" d="M480.5 811.5 L512 867.5 L512 945.5 L480.5 889.5Z"/><path class="b" d="M709.5 847 L740 846 L740 924 L709.5 925Z"/><path class="b" d="M694.5 859.5 L715.5 858.7 L715.5 936.7 L694.5 937.5Z"/><path class="b" d="M512 867.5 L530 866.5 L530 944.5 L512 945.5Z"/><path class="b" d="M530 866.5 L540 884 L540 962 L530 944.5Z"/><path class="b" d="M540 884 L705 878.2 L705 956.2 L540 962Z"/><path class="b" d="M480.5 811.5 L512 867.5 L530 866.5 L540 884 L705 878.2 L694.5 859.5 L715.5 858.7 L709.5 847 L740 846 L740 800Z"/>
<path class="ln" d="M712.5 820.7 L722.5 839.5 L730 853.6"/>
<path class="ln" d="M419.2 874.5 L419.2 888.4"/>
<path class="ln" d="M694.5 859.5 L694.5 878.4"/>
<path class="b" d="M232.5 899.5 L215 919 L215 997 L232.5 977.5Z"/><path class="b" d="M215 919 L207 915.7 L207 993.7 L215 997Z"/><path class="b" d="M207 915.7 L150 979 L150 1057 L207 993.7Z"/><path class="b" d="M150 979 L80 951.4 L80 1029.4 L150 1057Z"/><path class="b" d="M80 909 L112 873.2 L124.5 878.2 L138.7 862.7 L232.5 899.5 L215 919 L207 915.7 L150 979 L80 951.4Z"/>
<path class="b" d="M588.7 919 L587.5 931.5 L587.5 1009.5 L588.7 997Z"/><path class="b" d="M471.2 990 L451.2 987 L451.2 1065 L471.2 1068Z"/><path class="b" d="M721.2 1043 L470 1000.2 L470 1078.2 L721.2 1121Z"/><path class="b" d="M760 1020 L721.2 1043 L721.2 1121 L760 1098Z"/><path class="b" d="M455 933.2 L519.5 905 L588.7 919 L587.5 931.5 L603.7 934.5 L605.5 926.5 L740 951 L760 1020 L721.2 1043 L470 1000.2 L471.2 990 L451.2 987Z"/>
<path class="ln" d="M451.2 1003.2 L440 1019 L450 1023.2"/>
<path class="b" d="M326.2 928.2 L325 930 L325 1008 L326.2 1006.2Z"/><path class="b" d="M373.7 955.2 L333 981.5 L333 1059.5 L373.7 1033.2Z"/><path class="b" d="M333 981.5 L316.2 973.2 L316.2 1051.2 L333 1059.5Z"/><path class="b" d="M207.5 990 L185.7 977 L185.7 1055 L207.5 1068Z"/><path class="b" d="M316.2 973.2 L239.5 1021.5 L239.5 1099.5 L316.2 1051.2Z"/><path class="b" d="M239.5 1021.5 L194.2 998.2 L194.2 1076.2 L239.5 1099.5Z"/><path class="b" d="M185.7 977 L293 909.5 L326.2 928.2 L325 930 L373.7 955.2 L333 981.5 L316.2 973.2 L239.5 1021.5 L194.2 998.2 L207.5 990Z"/>
<path class="ln" d="M389.5 998.2 L451.2 975.2"/>
<path class="b" d="M472.5 1030.8 L433.3 1091.7 L433.3 1169.7 L472.5 1108.8Z"/><path class="b" d="M433.3 1091.7 L282.5 1039 L282.5 1117 L433.3 1169.7Z"/><path class="b" d="M282.5 1039 L304.5 1007.7 L353.7 997 L362 990 L472.5 1030.8 L433.3 1091.7Z"/>
<path class="b" d="M223 1028.2 L217 1035.7 L217 1113.7 L223 1106.2Z"/><path class="b" d="M211.7 1090 L80 1041.8 L80 1119.8 L211.7 1168Z"/><path class="b" d="M244.5 1045.7 L211.7 1090 L211.7 1168 L244.5 1123.7Z"/><path class="b" d="M80 975.5 L223 1028.2 L217 1035.7 L244.5 1045.7 L211.7 1090 L80 1041.8Z"/>
<path class="b" d="M202.5 1107 L155 1165 L155 1243 L202.5 1185Z"/><path class="b" d="M155 1165 L80 1137.3 L80 1215.3 L155 1243Z"/><path class="b" d="M80 1059 L202.5 1107 L155 1165 L80 1137.3Z"/>
<path class="ln" d="M207.5 990 L207.5 1004.5"/>
<path class="b" d="M507.5 1069.5 L516.5 1076 L516.5 1154 L507.5 1147.5Z"/><path class="b" d="M495.8 1087.5 L500 1091.7 L500 1169.7 L495.8 1165.5Z"/><path class="b" d="M477.5 1101.7 L484.2 1106.7 L484.2 1184.7 L477.5 1179.7Z"/><path class="b" d="M574.2 1178.2 L700 1118.2 L700 1196.2 L574.2 1256.2Z"/><path class="b" d="M484.2 1124.7 L574.2 1178.2 L574.2 1256.2 L484.2 1202.7Z"/><path class="b" d="M507.5 1069.5 L516.5 1076 L495.8 1087.5 L500 1091.7 L477.5 1101.7 L484.2 1106.7 L484.2 1124.7 L574.2 1178.2 L700 1118.2 L592.5 1047 L560 1062.5 L543.7 1052.5Z"/>
<path class="fl" d="M378.3 1227 L428 1203 L428 1242.4 L378.3 1266.4Z"/><path class="fl" d="M428 1203 L466.2 1231.7 L466.2 1271.1 L428 1242.4Z"/><path class="fl" d="M370.8 1241.3 L378.3 1227 L378.3 1266.4 L370.8 1280.7Z"/><path class="fl" d="M466.2 1231.7 L398 1258.3 L398 1297.7 L466.2 1271.1Z"/><path class="fl" d="M398 1258.3 L370.8 1241.3 L370.8 1280.7 L398 1297.7Z"/><path class="fl" d="M340 1183.8 L440 1136.3 L440 1175.7 L340 1223.2Z"/><path class="fl" d="M440 1136.3 L517.5 1193 L517.5 1232.4 L440 1175.7Z"/><path class="fl" d="M325.5 1208.8 L340 1183.8 L340 1223.2 L325.5 1248.2Z"/><path class="fl" d="M340 1144.4 L440 1096.9 L440 1136.3 L340 1183.8Z"/><path class="fl" d="M440 1096.9 L517.5 1153.6 L517.5 1193 L440 1136.3Z"/><path class="fl" d="M325.5 1169.4 L340 1144.4 L340 1183.8 L325.5 1208.8Z"/><path class="fl" d="M340 1105 L440 1057.5 L440 1096.9 L340 1144.4Z"/><path class="fl" d="M440 1057.5 L517.5 1114.2 L517.5 1153.6 L440 1096.9Z"/><path class="fl" d="M325.5 1130 L340 1105 L340 1144.4 L325.5 1169.4Z"/><path class="fl" d="M517.5 1193 L380 1247.1 L380 1286.5 L517.5 1232.4Z"/><path class="fl" d="M380 1247.1 L325.5 1208.8 L325.5 1248.2 L380 1286.5Z"/><path class="fl" d="M517.5 1153.6 L380 1207.7 L380 1247.1 L517.5 1193Z"/><path class="fl" d="M380 1207.7 L325.5 1169.4 L325.5 1208.8 L380 1247.1Z"/><path class="fl" d="M517.5 1114.2 L380 1168.3 L380 1207.7 L517.5 1153.6Z"/><path class="fl" d="M380 1168.3 L325.5 1130 L325.5 1169.4 L380 1207.7Z"/><path class="fe" d="M517.5 1232.4 L380 1286.5"/><path class="fe" d="M380 1286.5 L325.5 1248.2"/><path class="ph" d="M448.8 1024.7 L507.5 1067.5 L507.5 1106.9 L448.8 1064.1Z"/><path class="ph" d="M345.8 1073 L448.8 1024.7 L448.8 1064.1 L345.8 1112.4Z"/><path class="ph" d="M336.3 1090 L345.8 1073 L345.8 1112.4 L336.3 1129.4Z"/><path class="ph" d="M507.5 1067.5 L377.2 1119.2 L377.2 1158.6 L507.5 1106.9Z"/><path class="ph" d="M377.2 1119.2 L336.3 1090 L336.3 1129.4 L377.2 1158.6Z"/>
<path class="b" d="M695.7 1279.5 L585.5 1204.5 L585.5 1282.5 L695.7 1357.5Z"/><path class="b" d="M870 1204.7 L695.7 1279.5 L695.7 1357.5 L870 1282.7Z"/><path class="b" d="M585.5 1204.5 L760 1129.7 L870 1204.7 L695.7 1279.5Z"/>
<path class="b" d="M499.5 1381.2 L412.5 1314 L412.5 1392 L499.5 1459.2Z"/><path class="b" d="M679.2 1319.5 L499.5 1381.2 L499.5 1459.2 L679.2 1397.5Z"/><path class="b" d="M412.5 1314 L585.5 1250 L679.2 1319.5 L499.5 1381.2Z"/>
<path class="b" d="M283.2 1389 L159.5 1255.7 L159.5 1333.7 L283.2 1467Z"/><path class="b" d="M423 1375 L313 1397.5 L313 1475.5 L423 1453Z"/><path class="b" d="M313 1397.5 L283.2 1389 L283.2 1467 L313 1475.5Z"/><path class="b" d="M159.5 1255.7 L290.5 1232 L423 1375 L313 1397.5 L283.2 1389Z"/>
<path class="b" d="M136.7 1345.7 L60 1361.6 L60 1439.6 L136.7 1423.7Z"/><path class="b" d="M136.7 1345.7 L60 1361.6 L60 1263Z"/>
</g>
<rect x="832.5" y="821.5" width="738" height="629" fill="#fff" stroke="#000" stroke-width="1.1"/>
<path d="M832.5 1450.5v4.9M832.5 1450.5h-4.9" stroke="#000" stroke-width="1.1" fill="none"/>
<text class="tk" x="832.5" y="1469.9" text-anchor="middle" textLength="17.6" lengthAdjust="spacingAndGlyphs">0.0</text>
<text class="tk" x="821.7" y="1454.7" text-anchor="end" textLength="17.6" lengthAdjust="spacingAndGlyphs">0.0</text>
<path d="M980.1 1450.5v4.9M832.5 1324.7h-4.9" stroke="#000" stroke-width="1.1" fill="none"/>
<text class="tk" x="980.1" y="1469.9" text-anchor="middle" textLength="17.6" lengthAdjust="spacingAndGlyphs">0.2</text>
<text class="tk" x="821.7" y="1328.9" text-anchor="end" textLength="17.6" lengthAdjust="spacingAndGlyphs">0.2</text>
<path d="M1127.7 1450.5v4.9M832.5 1198.9h-4.9" stroke="#000" stroke-width="1.1" fill="none"/>
<text class="tk" x="1127.7" y="1469.9" text-anchor="middle" textLength="17.6" lengthAdjust="spacingAndGlyphs">0.4</text>
<text class="tk" x="821.7" y="1203.1" text-anchor="end" textLength="17.6" lengthAdjust="spacingAndGlyphs">0.4</text>
<path d="M1275.3 1450.5v4.9M832.5 1073.1h-4.9" stroke="#000" stroke-width="1.1" fill="none"/>
<text class="tk" x="1275.3" y="1469.9" text-anchor="middle" textLength="17.6" lengthAdjust="spacingAndGlyphs">0.6</text>
<text class="tk" x="821.7" y="1077.3" text-anchor="end" textLength="17.6" lengthAdjust="spacingAndGlyphs">0.6</text>
<path d="M1422.9 1450.5v4.9M832.5 947.3h-4.9" stroke="#000" stroke-width="1.1" fill="none"/>
<text class="tk" x="1422.9" y="1469.9" text-anchor="middle" textLength="17.6" lengthAdjust="spacingAndGlyphs">0.8</text>
<text class="tk" x="821.7" y="951.5" text-anchor="end" textLength="17.6" lengthAdjust="spacingAndGlyphs">0.8</text>
<path d="M1570.5 1450.5v4.9M832.5 821.5h-4.9" stroke="#000" stroke-width="1.1" fill="none"/>
<text class="tk" x="1570.5" y="1469.9" text-anchor="middle" textLength="17.6" lengthAdjust="spacingAndGlyphs">1.0</text>
<text class="tk" x="821.7" y="825.7" text-anchor="end" textLength="17.6" lengthAdjust="spacingAndGlyphs">1.0</text>
<text class="st" x="1200.6" y="812.1" text-anchor="middle" textLength="192.2" lengthAdjust="spacingAndGlyphs">Northwest View (북서향)</text>
<clipPath id="c4"><rect x="887.2" y="820.6" width="627.8" height="629"/></clipPath>
<rect x="887.2" y="820" width="627.8" height="629.6" fill="#fff"/>
<path d="M887.2 820.4H1515" stroke="#eee" stroke-width="1"/>
<g clip-path="url(#c4)">
<path class="rd" d="M1072.5 849.5 L1131.2 834.5 L1160 830.7"/>
<path class="th" d="M1160 830.7 L1196.2 825.7"/>
<path class="th" d="M1062.5 852 L1072.5 849.5"/>
<path class="rd" d="M1072.5 849.5 L1085.5 920.7"/>
<path class="ln" d="M1072.5 849.5 L1085.5 920.7"/>
<path class="rd" d="M1160 830.7 L1171.2 892.5"/>
<path class="ln" d="M1160 830.7 L1171.2 892.5"/>
<path class="rd" d="M1278.2 1000.7 L1323.2 988.2"/>
<path class="ln" d="M1278.2 1000.7 L1323.2 988.2"/>
<path class="rd" d="M1140 1107.5 L1188.3 1091.7 L1262 1070.6"/>
<path class="rd" d="M880 1324.6 L938.7 1375.7"/>
<path class="ln" d="M880 1324.6 L938.7 1375.7"/>
<path class="rd" d="M875 1339.6 L887 1347 L940 1379.5 L953 1407 L992.5 1440.7 L1007.5 1448.2 L1020 1454"/>
<path class="rd" d="M886 1374 L890 1395.7 L913.2 1417.7"/>
<path class="rd" d="M913.2 1417.7 L908.7 1423.2 L918 1448.2 L920 1454"/>
<path class="ln" d="M913.2 1417.7 L908.7 1423.2 L918 1448.2 L920 1454"/>
<path class="rd" d="M913.2 1417.7 L952.5 1448.2 L960 1454"/>
<path class="ln" d="M913.2 1417.7 L952.5 1448.2 L960 1454"/>
<path class="rd" d="M1000 1424 L1037.5 1425.7 L1062 1414"/>
<path class="ln" d="M1000 1424 L1037.5 1425.7 L1062 1414"/>
<path class="th" d="M1397 820.7 L1426.2 934.5 L1368.2 952.7"/>
<path class="ln" d="M1278.2 934 L1379.5 957"/>
<path class="th" d="M1076.2 1256.5 L1186 1207.5"/>
<path class="th" d="M1091.2 1250 L1160 1307.7"/>
<path class="ln" d="M1314.5 1193.7 L1376.5 1172.7 L1413.2 1180.2"/>
<path class="ln" d="M1376.5 1172.7 L1393.2 1156.5"/>
<path class="ln" d="M887 1028.2 L918.7 1020"/>
<path class="ln" d="M887 1079.5 L918.7 1057"/>
<path class="ln" d="M1196.2 820.7 L1205.7 859 L1214.5 857.7 L1222 883.2"/>
<path class="ln" d="M1205.7 815 L1205.7 859"/>
<path class="ln" d="M1214.5 815 L1214.5 857.7"/>
<path class="ln" d="M1225.7 820.7 L1230.7 835.7 L1298.2 821.5"/>
<path class="ln" d="M1230.7 835.7 L1230.7 880.7"/>
<path class="ln" d="M1263.2 906.5 L1298.2 899"/>
<path class="ln" d="M1375.2 815 L1375.2 881.5 L1371.5 882.5"/>
<path class="b" d="M1298.2 824.5 L1303.2 844 L1303.2 922 L1298.2 902.5Z"/><path class="b" d="M1303.2 844 L1371.5 828.2 L1371.5 906.2 L1303.2 922Z"/><path class="b" d="M1298.2 824.5 L1303.2 844 L1371.5 828.2 L1367.5 813 L1345 813.7Z"/>
<path class="b" d="M1026.7 842.5 L1062 834.5 L1062 912.5 L1026.7 920.5Z"/><path class="b" d="M1052.5 902 L1055 897 L1055 975 L1052.5 980Z"/><path class="b" d="M1050 904.7 L1052.5 902 L1052.5 980 L1050 982.7Z"/><path class="b" d="M1046.2 907 L1050 904.7 L1050 982.7 L1046.2 985Z"/><path class="b" d="M1040.5 909.2 L1046.2 907 L1046.2 985 L1040.5 987.2Z"/><path class="b" d="M1035 910.7 L1040.5 909.2 L1040.5 987.2 L1035 988.7Z"/><path class="b" d="M870 954.5 L1035 910.7 L1035 988.7 L870 1032.5Z"/><path class="b" d="M870 954.5 L1035 910.7 L1040.5 909.2 L1046.2 907 L1050 904.7 L1052.5 902 L1055 897 L1026.7 842.5 L1062 834.5 L1053 813 L940 813 L870 838Z"/>
<path class="b" d="M1278.2 929.5 L948.7 1032.7 L948.7 1110.7 L1278.2 1007.5Z"/><path class="b" d="M948.7 1032.7 L918.7 985.2 L918.7 1063.2 L948.7 1110.7Z"/><path class="b" d="M918.7 985.2 L955.5 973.2 L955.5 965 L1212.5 880.7 L1214.5 885.7 L1242.6 878 L1278.2 929.5 L948.7 1032.7Z"/>
<path class="ln" d="M955.5 965 L960 972 L960 1029.3"/>
<path class="b" d="M870 1151 L860 1123.4 L860 1201.4 L870 1229Z"/><path class="b" d="M1146 1122.2 L898.7 1199 L898.7 1277 L1146 1200.2Z"/><path class="b" d="M898.7 1199 L870 1151 L870 1229 L898.7 1277Z"/><path class="b" d="M860 1123.4 L940 1097 L948.7 1094.5 L1104.5 1046.5 L1146 1122.2 L898.7 1199 L870 1151Z"/>
<path class="b" d="M1495.7 957 L1363.2 1070.7 L1363.2 1148.7 L1495.7 1035Z"/><path class="b" d="M1363.2 1070.7 L1260.7 1044.5 L1260.7 1122.5 L1363.2 1148.7Z"/><path class="b" d="M1260.7 1044.5 L1358.2 957 L1495.7 957 L1363.2 1070.7Z"/>
<path class="b" d="M1560 1030 L1514.5 1069.5 L1514.5 1147.5 L1560 1108Z"/><path class="b" d="M1514.5 1069.5 L1499 1083.2 L1499 1161.2 L1514.5 1147.5Z"/><path class="b" d="M1499 1083.2 L1486.5 1080 L1486.5 1158 L1499 1161.2Z"/><path class="b" d="M1468.2 1095.2 L1389.5 1077 L1389.5 1155 L1468.2 1173.2Z"/><path class="b" d="M1486.5 1080 L1468.2 1095.2 L1468.2 1173.2 L1486.5 1158Z"/><path class="b" d="M1389.5 1077 L1530 951 L1560 1030 L1514.5 1069.5 L1499 1083.2 L1486.5 1080 L1468.2 1095.2Z"/>
<path class="ln" d="M1520 1086 L1508.2 1093.2 L1508.2 1124.5"/>
<path class="ln" d="M1508.2 1093.2 L1520 1100.3"/>
<path class="fl" d="M1200.8 1208.3 L1223.3 1213.3 L1223.3 1252.7 L1200.8 1247.7Z"/><path class="fl" d="M1166.7 1223.3 L1200.8 1208.3 L1200.8 1247.7 L1166.7 1262.7Z"/><path class="fl" d="M1223.3 1213.3 L1264.2 1241.7 L1264.2 1281.1 L1223.3 1252.7Z"/><path class="fl" d="M1214.7 1262.5 L1166.7 1223.3 L1166.7 1262.7 L1214.7 1301.9Z"/><path class="fl" d="M1264.2 1241.7 L1214.7 1262.5 L1214.7 1301.9 L1264.2 1281.1Z"/><path class="fl" d="M1188 1143.8 L1230.8 1151.3 L1230.8 1190.7 L1188 1183.2Z"/><path class="fl" d="M1119.2 1174.6 L1188 1143.8 L1188 1183.2 L1119.2 1214Z"/><path class="fl" d="M1230.8 1151.3 L1313.7 1208.8 L1313.7 1248.2 L1230.8 1190.7Z"/><path class="fl" d="M1188 1104.4 L1230.8 1111.9 L1230.8 1151.3 L1188 1143.8Z"/><path class="fl" d="M1119.2 1135.2 L1188 1104.4 L1188 1143.8 L1119.2 1174.6Z"/><path class="fl" d="M1230.8 1111.9 L1313.7 1169.4 L1313.7 1208.8 L1230.8 1151.3Z"/><path class="fl" d="M1188 1065 L1230.8 1072.5 L1230.8 1111.9 L1188 1104.4Z"/><path class="fl" d="M1119.2 1095.8 L1188 1065 L1188 1104.4 L1119.2 1135.2Z"/><path class="fl" d="M1230.8 1072.5 L1313.7 1130 L1313.7 1169.4 L1230.8 1111.9Z"/><path class="fl" d="M1214.7 1253 L1119.2 1174.6 L1119.2 1214 L1214.7 1292.4Z"/><path class="fl" d="M1313.7 1208.8 L1214.7 1253 L1214.7 1292.4 L1313.7 1248.2Z"/><path class="fl" d="M1214.7 1213.6 L1119.2 1135.2 L1119.2 1174.6 L1214.7 1253Z"/><path class="fl" d="M1313.7 1169.4 L1214.7 1213.6 L1214.7 1253 L1313.7 1208.8Z"/><path class="fl" d="M1214.7 1174.2 L1119.2 1095.8 L1119.2 1135.2 L1214.7 1213.6Z"/><path class="fl" d="M1313.7 1130 L1214.7 1174.2 L1214.7 1213.6 L1313.7 1169.4Z"/><path class="fe" d="M1214.7 1292.4 L1119.2 1214"/><path class="fe" d="M1313.7 1248.2 L1214.7 1292.4"/><path class="ph" d="M1188.8 1032.2 L1218 1037.5 L1218 1076.9 L1188.8 1071.6Z"/><path class="ph" d="M1138 1055 L1188.8 1032.2 L1188.8 1071.6 L1138 1094.4Z"/><path class="ph" d="M1218 1037.5 L1303 1097 L1303 1136.4 L1218 1076.9Z"/><path class="ph" d="M1228.3 1129.7 L1138 1055 L1138 1094.4 L1228.3 1169.1Z"/><path class="ph" d="M1303 1097 L1228.3 1129.7 L1228.3 1169.1 L1303 1136.4Z"/>
<path class="b" d="M1560 1165 L1513.2 1208.2 L1513.2 1286.2 L1560 1243Z"/><path class="b" d="M1493.2 1226.5 L1389.5 1204 L1389.5 1282 L1493.2 1304.5Z"/><path class="b" d="M1513.2 1208.2 L1493.2 1226.5 L1493.2 1304.5 L1513.2 1286.2Z"/><path class="b" d="M1389.5 1204 L1480.7 1118.2 L1560 1136 L1560 1165 L1513.2 1208.2 L1493.2 1226.5Z"/>
<path class="ln" d="M1465.7 1309.5 L1499.5 1316.5"/>
<path class="ln" d="M1514.5 1289.5 L1472 1371.2 L1514.5 1372.7 L1530 1373.3"/>
<path class="ln" d="M1472 1371.2 L1472 1399.5"/>
<path class="b" d="M994.2 1346.2 L882.4 1245.2 L882.4 1323.2 L994.2 1424.2Z"/><path class="b" d="M1115 1292.7 L994.2 1346.2 L994.2 1424.2 L1115 1370.7Z"/><path class="b" d="M882.4 1245.2 L1003.2 1192.7 L1115 1292.7 L994.2 1346.2Z"/>
<path class="b" d="M1455.7 1269 L1438.2 1278.2 L1438.2 1356.2 L1455.7 1347Z"/><path class="b" d="M1342.7 1357.7 L1237.7 1286.5 L1237.7 1364.5 L1342.7 1435.7Z"/><path class="b" d="M1465.7 1297.7 L1342.7 1357.7 L1342.7 1435.7 L1465.7 1375.7Z"/><path class="b" d="M1237.7 1286.5 L1336.5 1234.5 L1347.5 1242 L1370.2 1230 L1390.2 1244 L1397 1240.2 L1414.5 1252.5 L1425.7 1247.5 L1455.7 1269 L1438.2 1278.2 L1465.7 1297.7 L1342.7 1357.7Z"/>
<path class="b" d="M1110.7 1392.7 L1063 1356.5 L1063 1434.5 L1110.7 1470.7Z"/><path class="b" d="M1120 1389 L1110.7 1392.7 L1110.7 1470.7 L1120 1467Z"/><path class="b" d="M1296.5 1372 L1175 1431.2 L1175 1509.2 L1296.5 1450Z"/><path class="b" d="M1175 1431.2 L1120 1389 L1120 1467 L1175 1509.2Z"/><path class="b" d="M1063 1356.5 L1192.5 1293.2 L1296.5 1372 L1175 1431.2 L1120 1389 L1110.7 1392.7Z"/>
<path class="b" d="M1340 1470 L1215 1470 L1215 1548 L1340 1548Z"/><path class="b" d="M1215.7 1444.5 L1298.2 1425.2 L1302 1437 L1322.7 1432.5 L1327 1447 L1340 1470 L1215 1470Z"/>
<path class="b" d="M1530 1470 L1323 1470 L1323 1548 L1530 1548Z"/><path class="b" d="M1335.7 1444.5 L1353.2 1409.5 L1379.5 1408.2 L1381.2 1403.2 L1530 1397 L1530 1470 L1323 1470Z"/>
<path class="ln" d="M1520 1416.4 L1514.5 1432 L1509.5 1446.2 L1500.7 1446.2 L1498.2 1448.2 L1497 1452"/>
<path class="ln" d="M1438.2 1278.2 L1438.2 1309.5"/>
</g>
<rect x="618" y="1524.6" width="354" height="33.8" rx="6.5" ry="6.5" fill="#f5deb3" stroke="#000" stroke-width="1.4"/>
<text class="bx" x="795.2" y="1546.1" text-anchor="middle" textLength="335.5" lengthAdjust="spacingAndGlyphs">Building Info: 5 floors, Top floor: Penthouse</text>
</svg></body></html>
